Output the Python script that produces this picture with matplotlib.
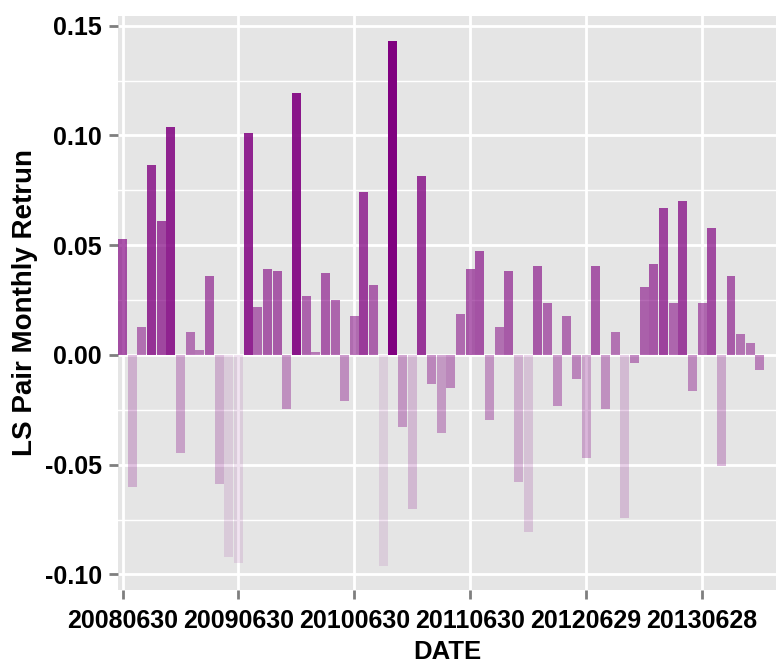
import numpy as np
import pandas as pd
import matplotlib
matplotlib.use('Agg')
import matplotlib.pyplot as plt

# monthly LS pair returns, 2008-06 .. 2013-12
returns = [0.0527, -0.0603, 0.0127, 0.0864, 0.0609, 0.1037, -0.0449, 0.0104,
           0.0023, 0.0360, -0.0590, -0.0922, -0.0950, 0.1009, 0.0219, 0.0391,
           0.0383, -0.0245, 0.1191, 0.0268, 0.0014, 0.0374, 0.0250, -0.0212,
           0.0177, 0.0741, 0.0318, -0.0963, 0.1428, -0.0327, -0.0704, 0.0814,
           -0.0132, -0.0355, -0.0150, 0.0186, 0.0391, 0.0473, -0.0296, 0.0127,
           0.0383, -0.0581, -0.0809, 0.0405, 0.0237, -0.0231, 0.0177, -0.0108,
           -0.0468, 0.0405, -0.0245, 0.0104, -0.0744, -0.0037, 0.0310, 0.0414,
           0.0668, 0.0237, 0.0701, -0.0163, 0.0237, 0.0577, -0.0508, 0.0360,
           0.0096, 0.0056, -0.0068]
dates = pd.date_range('2008-06-01', periods=len(returns), freq=pd.offsets.BMonthEnd())
date_labels = [d.strftime('%Y%m%d') for d in dates]
tick_idx = [0, 12, 24, 36, 48, 60]
y_ticks = [-0.10, -0.05, 0.00, 0.05, 0.10, 0.15]

vals = np.array(returns)
alpha = 0.1 + 0.9 * (vals - vals.min()) / (vals.max() - vals.min())
colors = [(0.5, 0.0, 0.5, a) for a in alpha]

plt.rcParams['font.family'] = ['Liberation Sans', 'DejaVu Sans']

fig = plt.figure(figsize=(7.83, 6.72), dpi=100)
ax = fig.add_axes([118/783, 82/672, 658/783, 574/672])
ax.set_facecolor('#e5e5e5')
for s in ax.spines.values():
    s.set_visible(False)

x = np.arange(len(vals))
ax.bar(x, vals, width=0.93, color=colors, zorder=3)

ax.set_xlim(-0.47, len(vals) - 1 + 1.66)
ax.set_ylim(-0.1071, 0.1544)
ax.set_xticks(tick_idx)
ax.set_xticklabels([date_labels[i] for i in tick_idx])
ax.set_yticks(y_ticks)
ax.set_yticklabels(['%.2f' % t for t in y_ticks])
ax.set_yticks([-0.075, -0.025, 0.025, 0.075, 0.125], minor=True)

ax.grid(which='major', color='white', linewidth=2, zorder=1)
ax.grid(which='minor', axis='y', color='white', linewidth=1, zorder=1)
ax.tick_params(which='major', length=6.5, width=2, color='#7f7f7f',
               labelsize=18, labelcolor='black')
ax.tick_params(axis='x', pad=7)
ax.tick_params(axis='y', pad=5)
ax.tick_params(which='minor', length=0)
for lab in ax.get_xticklabels() + ax.get_yticklabels():
    lab.set_fontweight('bold')

ax.set_xlabel('DATE', fontsize=18.5, fontweight='bold', labelpad=5)
ax.set_ylabel('LS Pair Monthly Retrun', fontsize=20, fontweight='bold', labelpad=5)

fig.savefig('out.png', dpi=100)
